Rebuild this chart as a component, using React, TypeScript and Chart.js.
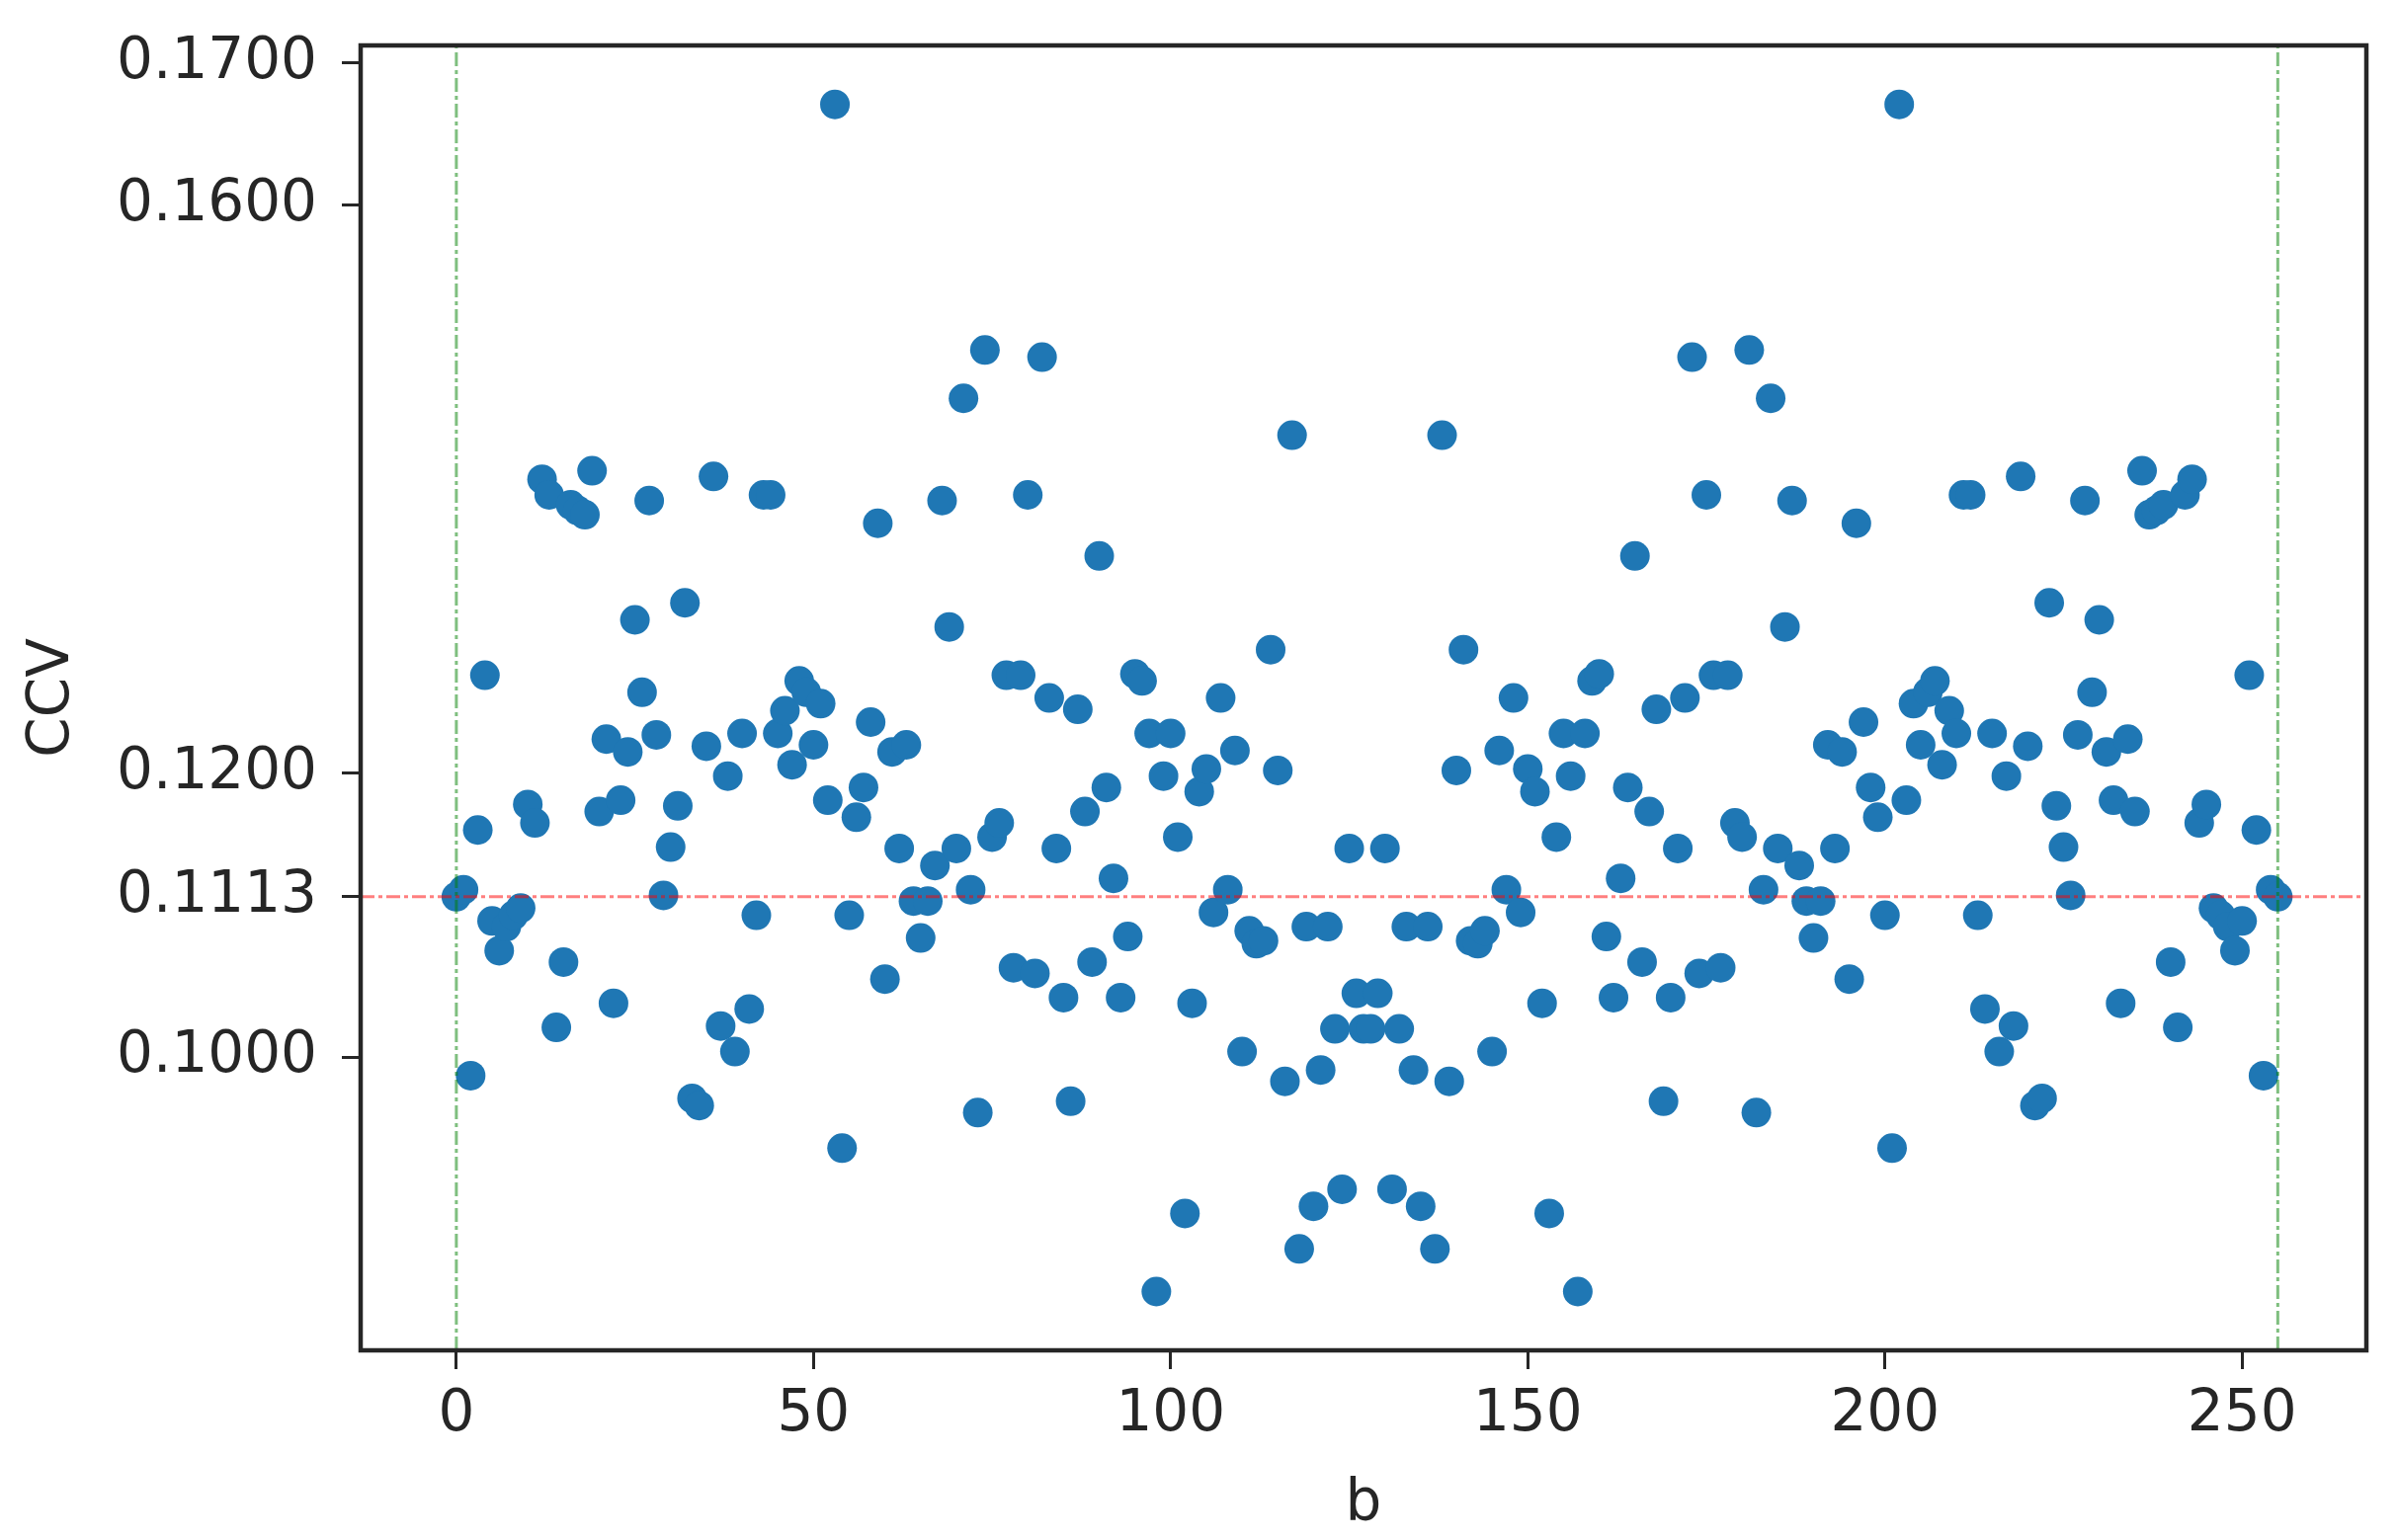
import React, { useEffect, useRef } from "react";
import { Chart, registerables } from "chart.js";

Chart.register(...registerables);

// CCV values for b = 0 .. 127
const ccvLow: number[] = [
  0.1113, 0.1118, 0.0987, 0.1160, 0.1269, 0.1096, 0.1075, 0.1092, 0.1100, 0.1105,
  0.1178, 0.1165, 0.1407, 0.1396, 0.1021, 0.1067, 0.1389, 0.1385, 0.1382, 0.1413,
  0.1173, 0.1224, 0.1038, 0.1181, 0.1215, 0.1308, 0.1257, 0.1392, 0.1227, 0.1114,
  0.1148, 0.1177, 0.1320, 0.0971, 0.0966, 0.1219, 0.1409, 0.1022, 0.1198, 0.1004,
  0.1228, 0.1034, 0.1100, 0.1396, 0.1396, 0.1228, 0.1244, 0.1206, 0.1265, 0.1257,
  0.1220, 0.1249, 0.1181, 0.1671, 0.0936, 0.1100, 0.1169, 0.1190, 0.1236, 0.1376,
  0.1055, 0.1215, 0.1147, 0.1220, 0.1110, 0.1084, 0.1110, 0.1135, 0.1392, 0.1303,
  0.1147, 0.1464, 0.1118, 0.0961, 0.1498, 0.1155, 0.1165, 0.1269, 0.1063, 0.1269,
  0.1396, 0.1059, 0.1493, 0.1253, 0.1147, 0.1042, 0.0969, 0.1245, 0.1173, 0.1067,
  0.1353, 0.1190, 0.1126, 0.1042, 0.1085, 0.1270, 0.1265, 0.1228, 0.0835, 0.1198,
  0.1228, 0.1155, 0.0890, 0.1038, 0.1187, 0.1203, 0.1102, 0.1253, 0.1118, 0.1216,
  0.1004, 0.1089, 0.1080, 0.1082, 0.1287, 0.1202, 0.0983, 0.1438, 0.0865, 0.1092,
  0.0895, 0.0991, 0.1092, 0.1020, 0.0907, 0.1147, 0.1045, 0.1020,
];

// CCV values for b = 128 .. 255
const ccvHigh: number[] = [
  0.1020, 0.1045, 0.1147, 0.0907, 0.1020, 0.1092, 0.0991, 0.0895, 0.1092, 0.0865,
  0.1438, 0.0983, 0.1202, 0.1287, 0.1082, 0.1080, 0.1089, 0.1004, 0.1216, 0.1118,
  0.1253, 0.1102, 0.1203, 0.1187, 0.1038, 0.0890, 0.1155, 0.1228, 0.1198, 0.0835,
  0.1228, 0.1265, 0.1270, 0.1085, 0.1042, 0.1126, 0.1190, 0.1353, 0.1067, 0.1173,
  0.1245, 0.0969, 0.1042, 0.1147, 0.1253, 0.1493, 0.1059, 0.1396, 0.1269, 0.1063,
  0.1269, 0.1165, 0.1155, 0.1498, 0.0961, 0.1118, 0.1464, 0.1147, 0.1303, 0.1392,
  0.1135, 0.1110, 0.1084, 0.1110, 0.1220, 0.1147, 0.1215, 0.1055, 0.1376, 0.1236,
  0.1190, 0.1169, 0.1100, 0.0936, 0.1671, 0.1181, 0.1249, 0.1220, 0.1257, 0.1265,
  0.1206, 0.1244, 0.1228, 0.1396, 0.1396, 0.1100, 0.1034, 0.1228, 0.1004, 0.1198,
  0.1022, 0.1409, 0.1219, 0.0966, 0.0971, 0.1320, 0.1177, 0.1148, 0.1114, 0.1227,
  0.1392, 0.1257, 0.1308, 0.1215, 0.1181, 0.1038, 0.1224, 0.1173, 0.1413, 0.1382,
  0.1385, 0.1389, 0.1067, 0.1021, 0.1396, 0.1407, 0.1165, 0.1178, 0.1105, 0.1100,
  0.1092, 0.1075, 0.1096, 0.1269, 0.1160, 0.0987, 0.1118, 0.1113,
];

const ccvValues: number[] = [...ccvLow, ...ccvHigh];
const bValues: number[] = ccvValues.map((_, i) => i);

const xTickValues: number[] = [0, 50, 100, 150, 200, 250];
const yTickValues: number[] = [0.1, 0.1113, 0.12, 0.16, 0.17];
const referenceCcv = 0.1113;
const boundaryB: number[] = [0, 255];
const xLimits: number[] = [-13.4, 267.4];
const yLimits: number[] = [0.07936, 0.17125];

const FONT = "'DejaVu Sans', 'Liberation Sans', sans-serif";
const INK = "#262626";

export default function App() {
  const canvasRef = useRef<HTMLCanvasElement | null>(null);

  useEffect(() => {
    const canvas = canvasRef.current;
    if (!canvas) return;

    const framePlugin = {
      id: "frameBox",
      afterDraw(chart: any) {
        const { ctx, chartArea } = chart;
        ctx.save();
        ctx.strokeStyle = INK;
        ctx.lineWidth = 4.5;
        ctx.strokeRect(
          chartArea.left,
          chartArea.top,
          chartArea.right - chartArea.left,
          chartArea.bottom - chartArea.top
        );
        ctx.restore();
      },
    };

    const greenLines = boundaryB.map((b) => ({
      type: "line" as const,
      data: [
        { x: b, y: yLimits[0] },
        { x: b, y: yLimits[1] },
      ],
      borderColor: "rgba(0,128,0,0.5)",
      borderWidth: 3,
      borderDash: [14, 4, 4, 4],
      pointRadius: 0,
      fill: false,
      order: 0,
    }));

    const chart = new Chart(canvas, {
      type: "scatter",
      data: {
        datasets: [
          {
            type: "line" as const,
            data: [
              { x: xLimits[0], y: referenceCcv },
              { x: xLimits[1], y: referenceCcv },
            ],
            borderColor: "rgba(255,0,0,0.5)",
            borderWidth: 3,
            borderDash: [14, 4, 4, 4],
            pointRadius: 0,
            fill: false,
            order: 0,
          },
          ...greenLines,
          {
            type: "scatter" as const,
            data: bValues.map((b, i) => ({ x: b, y: ccvValues[i] })),
            backgroundColor: "#1f77b4",
            borderColor: "#1f77b4",
            borderWidth: 0,
            pointRadius: 15,
            pointHoverRadius: 15,
            order: 1,
          },
        ] as any,
      },
      options: {
        responsive: false,
        animation: false,
        maintainAspectRatio: false,
        layout: { padding: { top: 46, right: 31, left: 0, bottom: 0 } },
        plugins: {
          legend: { display: false },
          tooltip: { enabled: false },
        },
        scales: {
          x: {
            type: "linear",
            min: xLimits[0],
            max: xLimits[1],
            afterBuildTicks: (scale: any) => {
              scale.ticks = xTickValues.map((v) => ({ value: v }));
            },
            afterFit: (scale: any) => {
              scale.height = 192;
              scale.paddingLeft = 0;
              scale.paddingRight = 0;
            },
            ticks: {
              autoSkip: false,
              maxRotation: 0,
              color: INK,
              padding: 12,
              font: { family: FONT, size: 58 },
              callback: (v: any) => String(v),
            },
            grid: {
              display: true,
              drawOnChartArea: false,
              drawTicks: true,
              tickLength: 19,
              tickWidth: 3,
              tickColor: INK,
            },
            border: { display: false },
            title: {
              display: true,
              text: "b",
              color: INK,
              font: { family: FONT, size: 58 },
              padding: { top: 0, bottom: 0 },
            },
          },
          y: {
            type: "linear",
            min: yLimits[0],
            max: yLimits[1],
            afterBuildTicks: (scale: any) => {
              scale.ticks = yTickValues.map((v) => ({ value: v }));
            },
            afterFit: (scale: any) => {
              scale.width = 365;
              scale.paddingTop = 0;
              scale.paddingBottom = 0;
            },
            ticks: {
              autoSkip: false,
              color: INK,
              padding: 25,
              font: { family: FONT, size: 58 },
              callback: (v: any) => Number(v).toFixed(4),
            },
            grid: {
              display: true,
              drawOnChartArea: false,
              drawTicks: true,
              tickLength: 19,
              tickWidth: 3,
              tickColor: INK,
            },
            border: { display: false },
            title: {
              display: true,
              text: "CCV",
              color: INK,
              font: { family: FONT, size: 58 },
              padding: { top: 19, bottom: 0 },
            },
          },
        },
      },
      plugins: [framePlugin],
    } as any);

    return () => chart.destroy();
  }, []);

  return (
    <div
      style={{
        position: "fixed",
        left: 0,
        top: 0,
        width: 2426,
        height: 1559,
        background: "#ffffff",
      }}
    >
      <canvas
        ref={canvasRef}
        width={2426}
        height={1559}
        style={{ display: "block", width: 2426, height: 1559 }}
      />
    </div>
  );
}
